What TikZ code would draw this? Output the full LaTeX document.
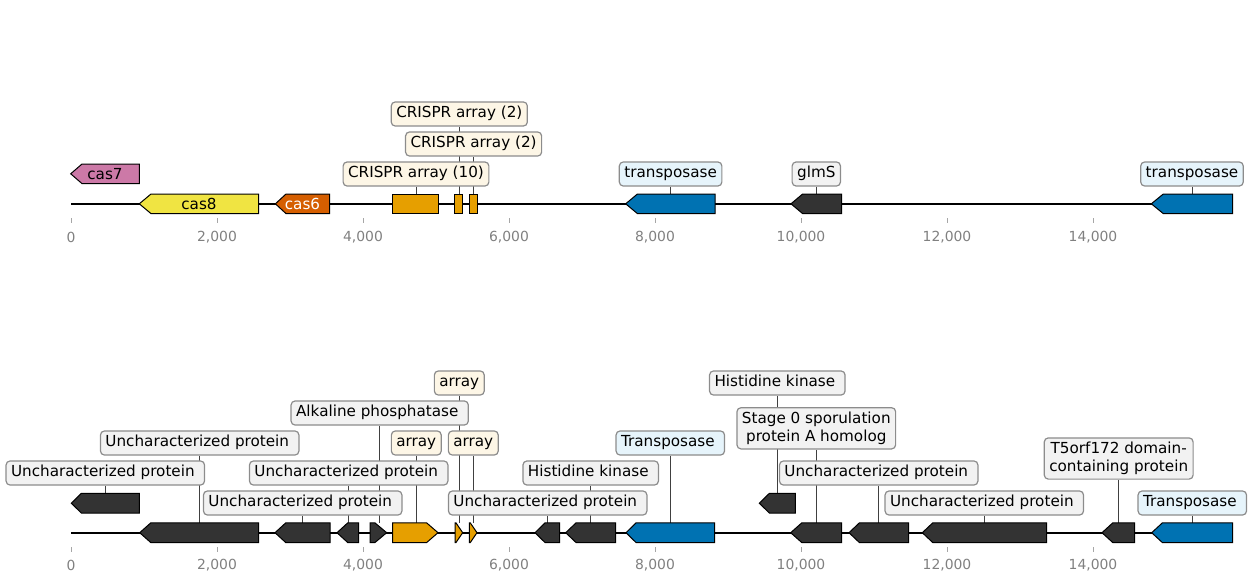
\documentclass[tikz,border=0pt]{standalone}
\usepackage{fontspec}
\setmainfont{DejaVu Sans}
\usetikzlibrary{backgrounds}

\definecolor{cassev}{HTML}{CC79A7}
\definecolor{caseight}{HTML}{F0E442}
\definecolor{cassix}{HTML}{D55E00}
\definecolor{crispr}{HTML}{E69F00}
\definecolor{transp}{HTML}{0072B2}
\definecolor{other}{HTML}{333333}
\definecolor{tagcrispr}{HTML}{FDF6E6}
\definecolor{tagtransp}{HTML}{E6F4FB}
\definecolor{tagother}{HTML}{F2F2F2}
\definecolor{tagline}{HTML}{8C8C8C}
\newcommand{\tsp}{\kern0.318em}

\begin{document}
\begin{tikzpicture}[x=1pt,y=-1pt,
    gene/.style={draw=black, line width=1pt},
    tag/.style={draw=tagline, line width=1.2pt, rounded corners=4pt,
      inner xsep=5pt, inner ysep=4.5pt, font=\fontsize{15.2}{17.5}\selectfont},
    tagone/.style={tag, text height=11.5pt, text depth=3.6pt},
    conn/.style={draw=black!75, line width=0.9pt},
    tick/.style={draw=black!35, line width=0.8pt},
    ticklbl/.style={text=black!50, font=\fontsize{13.9}{16}\selectfont}]
  \useasboundingbox (0,0) rectangle (1251,582);

  % axes
  \draw[line width=1.6pt] (71,203.8) -- (1232.7,203.8);
  \draw[line width=1.6pt] (71,532.7) -- (1232.7,532.7);
  \foreach \bp/\txt in {0/0,2000/{2,000},4000/{4,000},6000/{6,000},8000/{8,000},10000/{10,000},12000/{12,000},14000/{14,000}} {
    \draw[tick] (71+0.073*\bp,218.3) -- (71+0.073*\bp,223.3);
    \node[ticklbl] at (71+0.073*\bp,237) {\txt};
    \draw[tick] (71+0.073*\bp,547.3) -- (71+0.073*\bp,552.3);
    \node[ticklbl] at (71+0.073*\bp,565.5) {\txt};
  }

  % top track
  \foreach \n/\t/\s/\r/\y/\x/\c in {gcas7/70.7/82/139.3/173.8/105/cassev, gcas8/139.3/151/258.6/203.8/199/caseight,
      gcas6/275.4/286/329.6/203.8/302.5/cassix, gtra/625.7/637.4/715/203.8/670.6/transp,
      gglm/791/802.6/841.6/203.8/816.3/other, gtrb/1151.3/1163.3/1232.6/203.8/1192/transp} {
    \draw[gene,fill=\c] (\t,\y) -- (\s,\y-9.8) -- (\r,\y-9.8) -- (\r,\y+9.8) -- (\s,\y+9.8) -- cycle;
    \coordinate (\n) at (\x,\y-9.8);
  }
  \foreach \n/\l/\r/\x in {gcra/392.9/438.6/416, gcrb/454.6/462.9/459.3, gcrc/469.3/477.1/473.6} {
    \draw[gene,fill=crispr] (\l,194) rectangle (\r,213.6);
    \coordinate (\n) at (\x,194);
  }
  \node[font=\fontsize{15.2}{17.5}\selectfont] (ncas7) at (gcas7 |- 0,173.8) {cas7};
  \node[font=\fontsize{15.2}{17.5}\selectfont] (ncas8) at (gcas8 |- 0,203.8) {cas8};
  \node[font=\fontsize{15.2}{17.5}\selectfont, text=white] (ncas6) at (gcas6 |- 0,203.8) {cas6};

  \node[tagone,fill=tagcrispr] (tcra) at (416,174) {CRISPR array (10)};
  \node[tagone,fill=tagcrispr] (tcrb) at (459.3,114) {CRISPR array (2)};
  \node[tagone,fill=tagcrispr] (tcrc) at (473.6,144) {CRISPR array (2)};
  \node[tagone,fill=tagtransp] (ttra) at (670.6,174) {transposase};
  \node[tagone,fill=tagother] (tglm) at (816.3,174) {glmS};
  \node[tagone,fill=tagtransp] (ttrb) at (1192,174) {transposase};

  % bottom track
  \foreach \n/\t/\s/\r/\y/\x/\c in {ba/71.3/81.3/139.3/503.2/105.3/other, bb/139.7/150.7/258.7/532.7/199.7/other,
      bc/275/285.7/330/532.7/302.7/other, bd/337/347.7/358.7/532.7/348.7/other,
      bi/535/545/559.7/532.7/547.7/other, bj/565.7/576/615.7/532.7/590.7/other,
      bk/626/636/714.7/532.7/670.3/transp, bl/759.3/769.3/795.3/503.2/777.3/other,
      bm/790.7/801.7/841.7/532.7/816.3/other, bn/849/859.3/908.7/532.7/878.7/other,
      bo/922.3/932.7/1046.7/532.7/984.3/other, bp/1102/1112.7/1134.7/532.7/1118.7/other,
      bq/1151.7/1162.3/1232.7/532.7/1192.3/transp} {
    \draw[gene,fill=\c] (\t,\y) -- (\s,\y-9.8) -- (\r,\y-9.8) -- (\r,\y+9.8) -- (\s,\y+9.8) -- cycle;
    \coordinate (\n) at (\x,\y-9.8);
  }
  \foreach \n/\l/\s/\t/\x/\c in {be/370/375/386.7/379.7/other, bf/392.7/426.7/438/416.3/crispr,
      bg/455/456/462.7/459.3/crispr, bh/469.3/470.3/477/473.3/crispr} {
    \draw[gene,fill=\c] (\l,522.9) -- (\s,522.9) -- (\t,532.7) -- (\s,542.5) -- (\l,542.5) -- cycle;
    \coordinate (\n) at (\x,522.9);
  }

  \node[tagone,fill=tagother] (ta) at (105.3,473) {Uncharacterized protein\tsp};
  \node[tagone,fill=tagother] (tb) at (199.7,443) {Uncharacterized protein\tsp};
  \node[tagone,fill=tagother] (td) at (348.7,473) {Uncharacterized protein\tsp};
  \node[tagone,fill=tagother] (tc) at (302.7,503) {Uncharacterized protein\tsp};
  \node[tagone,fill=tagother] (te) at (379.7,413) {Alkaline phosphatase\tsp};
  \node[tagone,fill=tagcrispr] (tf) at (416.3,443) {array};
  \node[tagone,fill=tagcrispr] (tg) at (459.3,383) {array};
  \node[tagone,fill=tagcrispr] (th) at (473.3,443) {array};
  \node[tagone,fill=tagother] (tj) at (590.7,473) {Histidine kinase\tsp};
  \node[tagone,fill=tagother] (ti) at (547.7,503) {Uncharacterized protein\tsp};
  \node[tagone,fill=tagtransp] (tk) at (670.3,443) {Transposase\tsp};
  \node[tagone,fill=tagother] (tl) at (777.3,383) {Histidine kinase\tsp};
  \node[tag,fill=tagother,align=center] (tm) at (816.3,428.3) {Stage 0 sporulation\\protein A homolog};
  \node[tagone,fill=tagother] (tn) at (878.7,473) {Uncharacterized protein\tsp};
  \node[tagone,fill=tagother] (to) at (984.3,503) {Uncharacterized protein\tsp};
  \node[tag,fill=tagother,align=center] (tp) at (1118.7,458.5) {T5orf172 domain-\\containing protein};
  \node[tagone,fill=tagtransp] (tq) at (1192.3,503) {Transposase\tsp};

  % connectors
  \begin{scope}[on background layer]
    \foreach \a/\b in {tcra/gcra, tcrb/gcrb, tcrc/gcrc, ttra/gtra, tglm/gglm, ttrb/gtrb,
        ta/ba, tb/bb, tc/bc, td/bd, te/be, tf/bf, tg/bg, th/bh, ti/bi, tj/bj, tk/bk,
        tl/bl, tm/bm, tn/bn, to/bo, tp/bp, tq/bq}
      \draw[conn] (\a) -- (\b);
  \end{scope}
\end{tikzpicture}
\end{document}
